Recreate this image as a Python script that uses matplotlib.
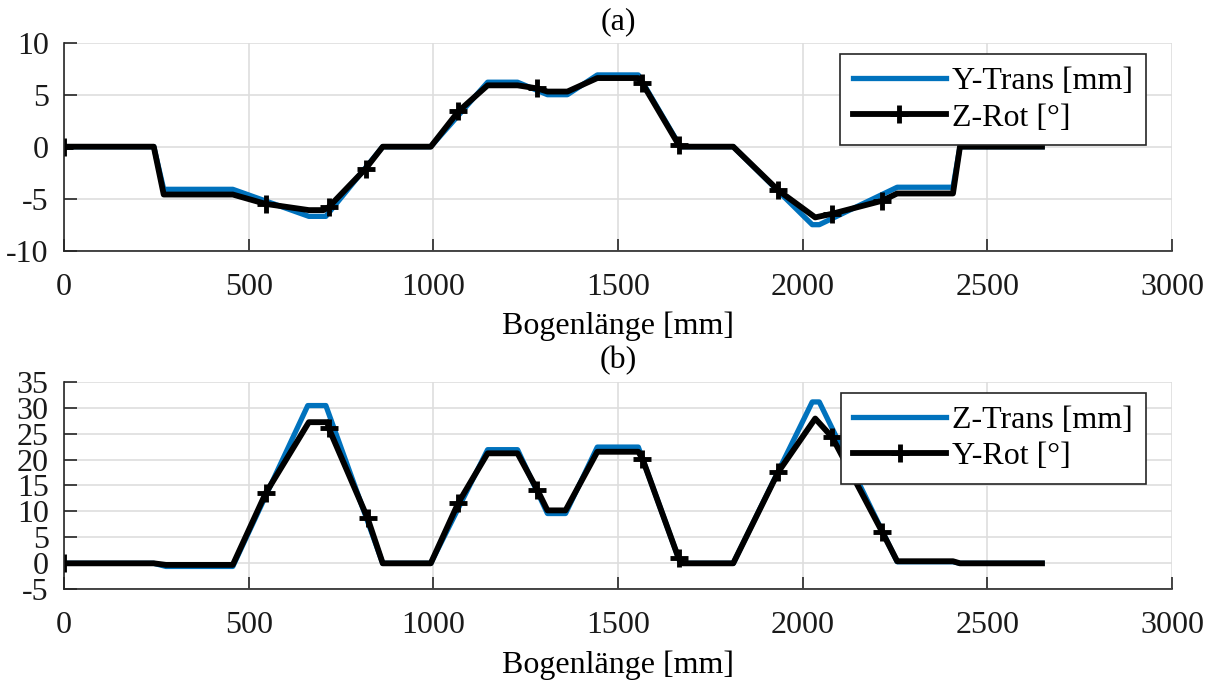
import numpy as np
import matplotlib.pyplot as plt

plt.rcParams['font.family'] = ['Liberation Serif', 'DejaVu Serif']
plt.rcParams['font.size'] = 23
plt.rcParams['axes.unicode_minus'] = False

# (a) lateral translation / yaw along the path
s_ytrans = [0, 243, 270, 457, 663, 709, 863, 993, 1147, 1228, 1309, 1363, 1444,
            1555, 1669, 1812, 2026, 2045, 2256, 2407, 2426, 2648]
ytrans = [0, 0, -4.1, -4.1, -6.7, -6.7, 0, 0, 6.2, 6.2, 5.0, 5.0, 6.9,
          6.9, 0, 0, -7.5, -7.5, -3.9, -3.9, 0, 0]

s_zrot = [0, 243, 270, 457, 546, 663, 703, 717, 817, 863, 993, 1068, 1147, 1228,
          1282, 1309, 1363, 1444, 1555, 1566, 1664, 1669, 1812, 1934, 2034, 2080,
          2215, 2256, 2407, 2426, 2648]
zrot = [0, 0, -4.6, -4.6, -5.5, -6.1, -6.1, -5.8, -2.1, 0, 0, 3.4, 5.9, 5.9,
        5.6, 5.3, 5.3, 6.6, 6.6, 6.1, 0.2, 0, 0, -4.2, -6.8, -6.45,
        -5.2, -4.5, -4.5, 0, 0]
zrot_marks = [0, 4, 7, 8, 11, 14, 19, 20, 23, 25, 26]

# (b) vertical translation / pitch along the path
s_ztrans = [0, 243, 276, 457, 660, 709, 863, 993, 1147, 1228, 1309, 1358, 1444,
            1555, 1669, 1812, 2026, 2045, 2256, 2407, 2426, 2648]
ztrans = [0, 0, -0.6, -0.6, 30.4, 30.4, 0, 0, 21.9, 21.9, 9.6, 9.6, 22.4,
          22.4, 0, 0, 31.1, 31.1, 0.3, 0.3, 0, 0]

s_yrot = [0, 243, 276, 457, 546, 663, 713, 717, 822, 863, 993, 1068, 1147, 1228,
          1282, 1309, 1358, 1444, 1555, 1566, 1664, 1675, 1812, 1934, 2034, 2080,
          2215, 2256, 2407, 2426, 2648]
yrot = [0, 0, -0.3, -0.3, 13.5, 27.2, 27.2, 26.0, 8.7, 0, 0, 11.7, 21.2, 21.2,
        14.1, 10.2, 10.2, 21.5, 21.5, 20.2, 1.0, 0, 0, 17.6, 27.9, 24.3,
        6.1, 0.4, 0.4, 0, 0]
yrot_marks = [0, 4, 7, 8, 11, 14, 19, 20, 23, 25, 26]

blue = '#0072BD'
axc = '#262626'

fig = plt.figure(figsize=(12.17, 6.81), dpi=100)
ax1 = fig.add_axes([0.0526, 0.6319, 0.9104, 0.3054])
ax2 = fig.add_axes([0.0526, 0.1347, 0.9104, 0.3048])


def style(ax, ylim, yticks, title):
    ax.set_xlim(0, 3000)
    ax.set_ylim(*ylim)
    ax.set_xticks(np.arange(0, 3001, 500))
    ax.set_yticks(yticks)
    ax.grid(True, color='#dedede', linewidth=1.2)
    ax.set_axisbelow(True)
    for side in ['top', 'right']:
        ax.spines[side].set_visible(False)
    for side in ['left', 'bottom']:
        ax.spines[side].set_color(axc)
        ax.spines[side].set_linewidth(1.2)
    ax.tick_params(direction='in', length=9, width=1.2, color=axc,
                   labelcolor='#1a1a1a')
    ax.tick_params(axis='x', pad=16)
    ax.tick_params(axis='y', pad=11)
    ax.set_xlabel('Bogenlänge [mm]', labelpad=7)
    ax.set_title(title, fontsize=23, pad=10)


ax1.plot(s_ytrans, ytrans, color=blue, lw=3.8, solid_joinstyle='round',
         label='Y-Trans [mm]')
ax1.plot(s_zrot, zrot, color='black', lw=4.2, marker='+', ms=13, mew=3.5,
         markevery=zrot_marks, label='Z-Rot [°]')
style(ax1, (-10, 10), np.arange(-10, 11, 5), '(a)')

ax2.plot(s_ztrans, ztrans, color=blue, lw=3.8, solid_joinstyle='round',
         label='Z-Trans [mm]')
ax2.plot(s_yrot, yrot, color='black', lw=4.2, marker='+', ms=13, mew=3.5,
         markevery=yrot_marks, label='Y-Rot [°]')
style(ax2, (-5, 35), np.arange(-5, 36, 5), '(b)')

for ax in (ax1, ax2):
    leg = ax.legend(loc='upper right', bbox_to_anchor=(0.9765, 0.9457),
                    borderaxespad=0, fancybox=False, framealpha=1,
                    edgecolor=axc, handlelength=2.9, handletextpad=0.2,
                    labelspacing=0.22, borderpad=0.4, fontsize=23)
    leg.get_frame().set_linewidth(1.2)

fig.savefig('out.png', dpi=100)
